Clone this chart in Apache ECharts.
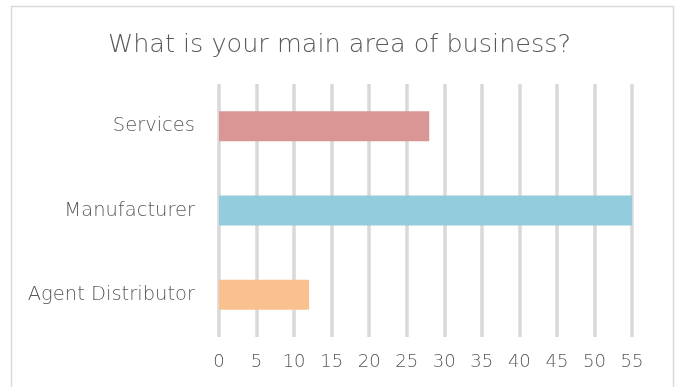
<!DOCTYPE html>
<html>
<head>
<meta charset="utf-8">
<script src="https://cdn.jsdelivr.net/npm/echarts@6/dist/echarts.min.js"></script>
<style>
  html, body { margin: 0; padding: 0; background: #ffffff; }
  #chart { width: 679px; height: 387px; }
</style>
</head>
<body>
<div id="chart"></div>
<script>
// Survey answers: main area of business
const categories = ['Agent Distributor', 'Manufacturer', 'Services'];
const counts = [12, 55, 28];
const barColors = ['#fac090', '#93cddd', '#d99694'];
const xTicks = { min: 0, max: 55, interval: 5 };

const textColor = '#595959';
const font = "'DejaVu Sans', sans-serif";

const chart = echarts.init(document.getElementById('chart'), null, { renderer: 'canvas' });

chart.setOption({
  backgroundColor: '#ffffff',
  animation: false,
  title: {
    text: 'What is your main area of business?',
    left: 'center',
    top: 27,
    textStyle: {
      color: textColor,
      fontFamily: font,
      fontWeight: 200,
      fontSize: 25.5
    }
  },
  graphic: [{
    type: 'rect',
    shape: { x: 11.5, y: 6.5, width: 662, height: 420 },
    style: { fill: 'none', stroke: '#d9d9d9', lineWidth: 1.5 },
    silent: true,
    z: -1
  }],
  grid: {
    left: 219,
    right: 47,
    top: 84,
    bottom: 50,
    containLabel: false
  },
  xAxis: {
    type: 'value',
    min: xTicks.min,
    max: xTicks.max,
    interval: xTicks.interval,
    axisLine: { show: false },
    axisTick: { show: false },
    axisLabel: {
      color: textColor,
      fontFamily: font,
      fontWeight: 200,
      fontSize: 18,
      margin: 16
    },
    splitLine: {
      show: true,
      lineStyle: { color: '#d9d9d9', width: 3.5 }
    }
  },
  yAxis: {
    type: 'category',
    data: categories,
    axisLine: { show: false },
    axisTick: { show: false },
    axisLabel: {
      color: textColor,
      fontFamily: font,
      fontWeight: 200,
      fontSize: 19.5,
      margin: 24
    }
  },
  series: [{
    type: 'bar',
    data: counts.map((v, i) => ({ value: v, itemStyle: { color: barColors[i] } })),
    barWidth: 30
  }]
});
</script>
</body>
</html>
